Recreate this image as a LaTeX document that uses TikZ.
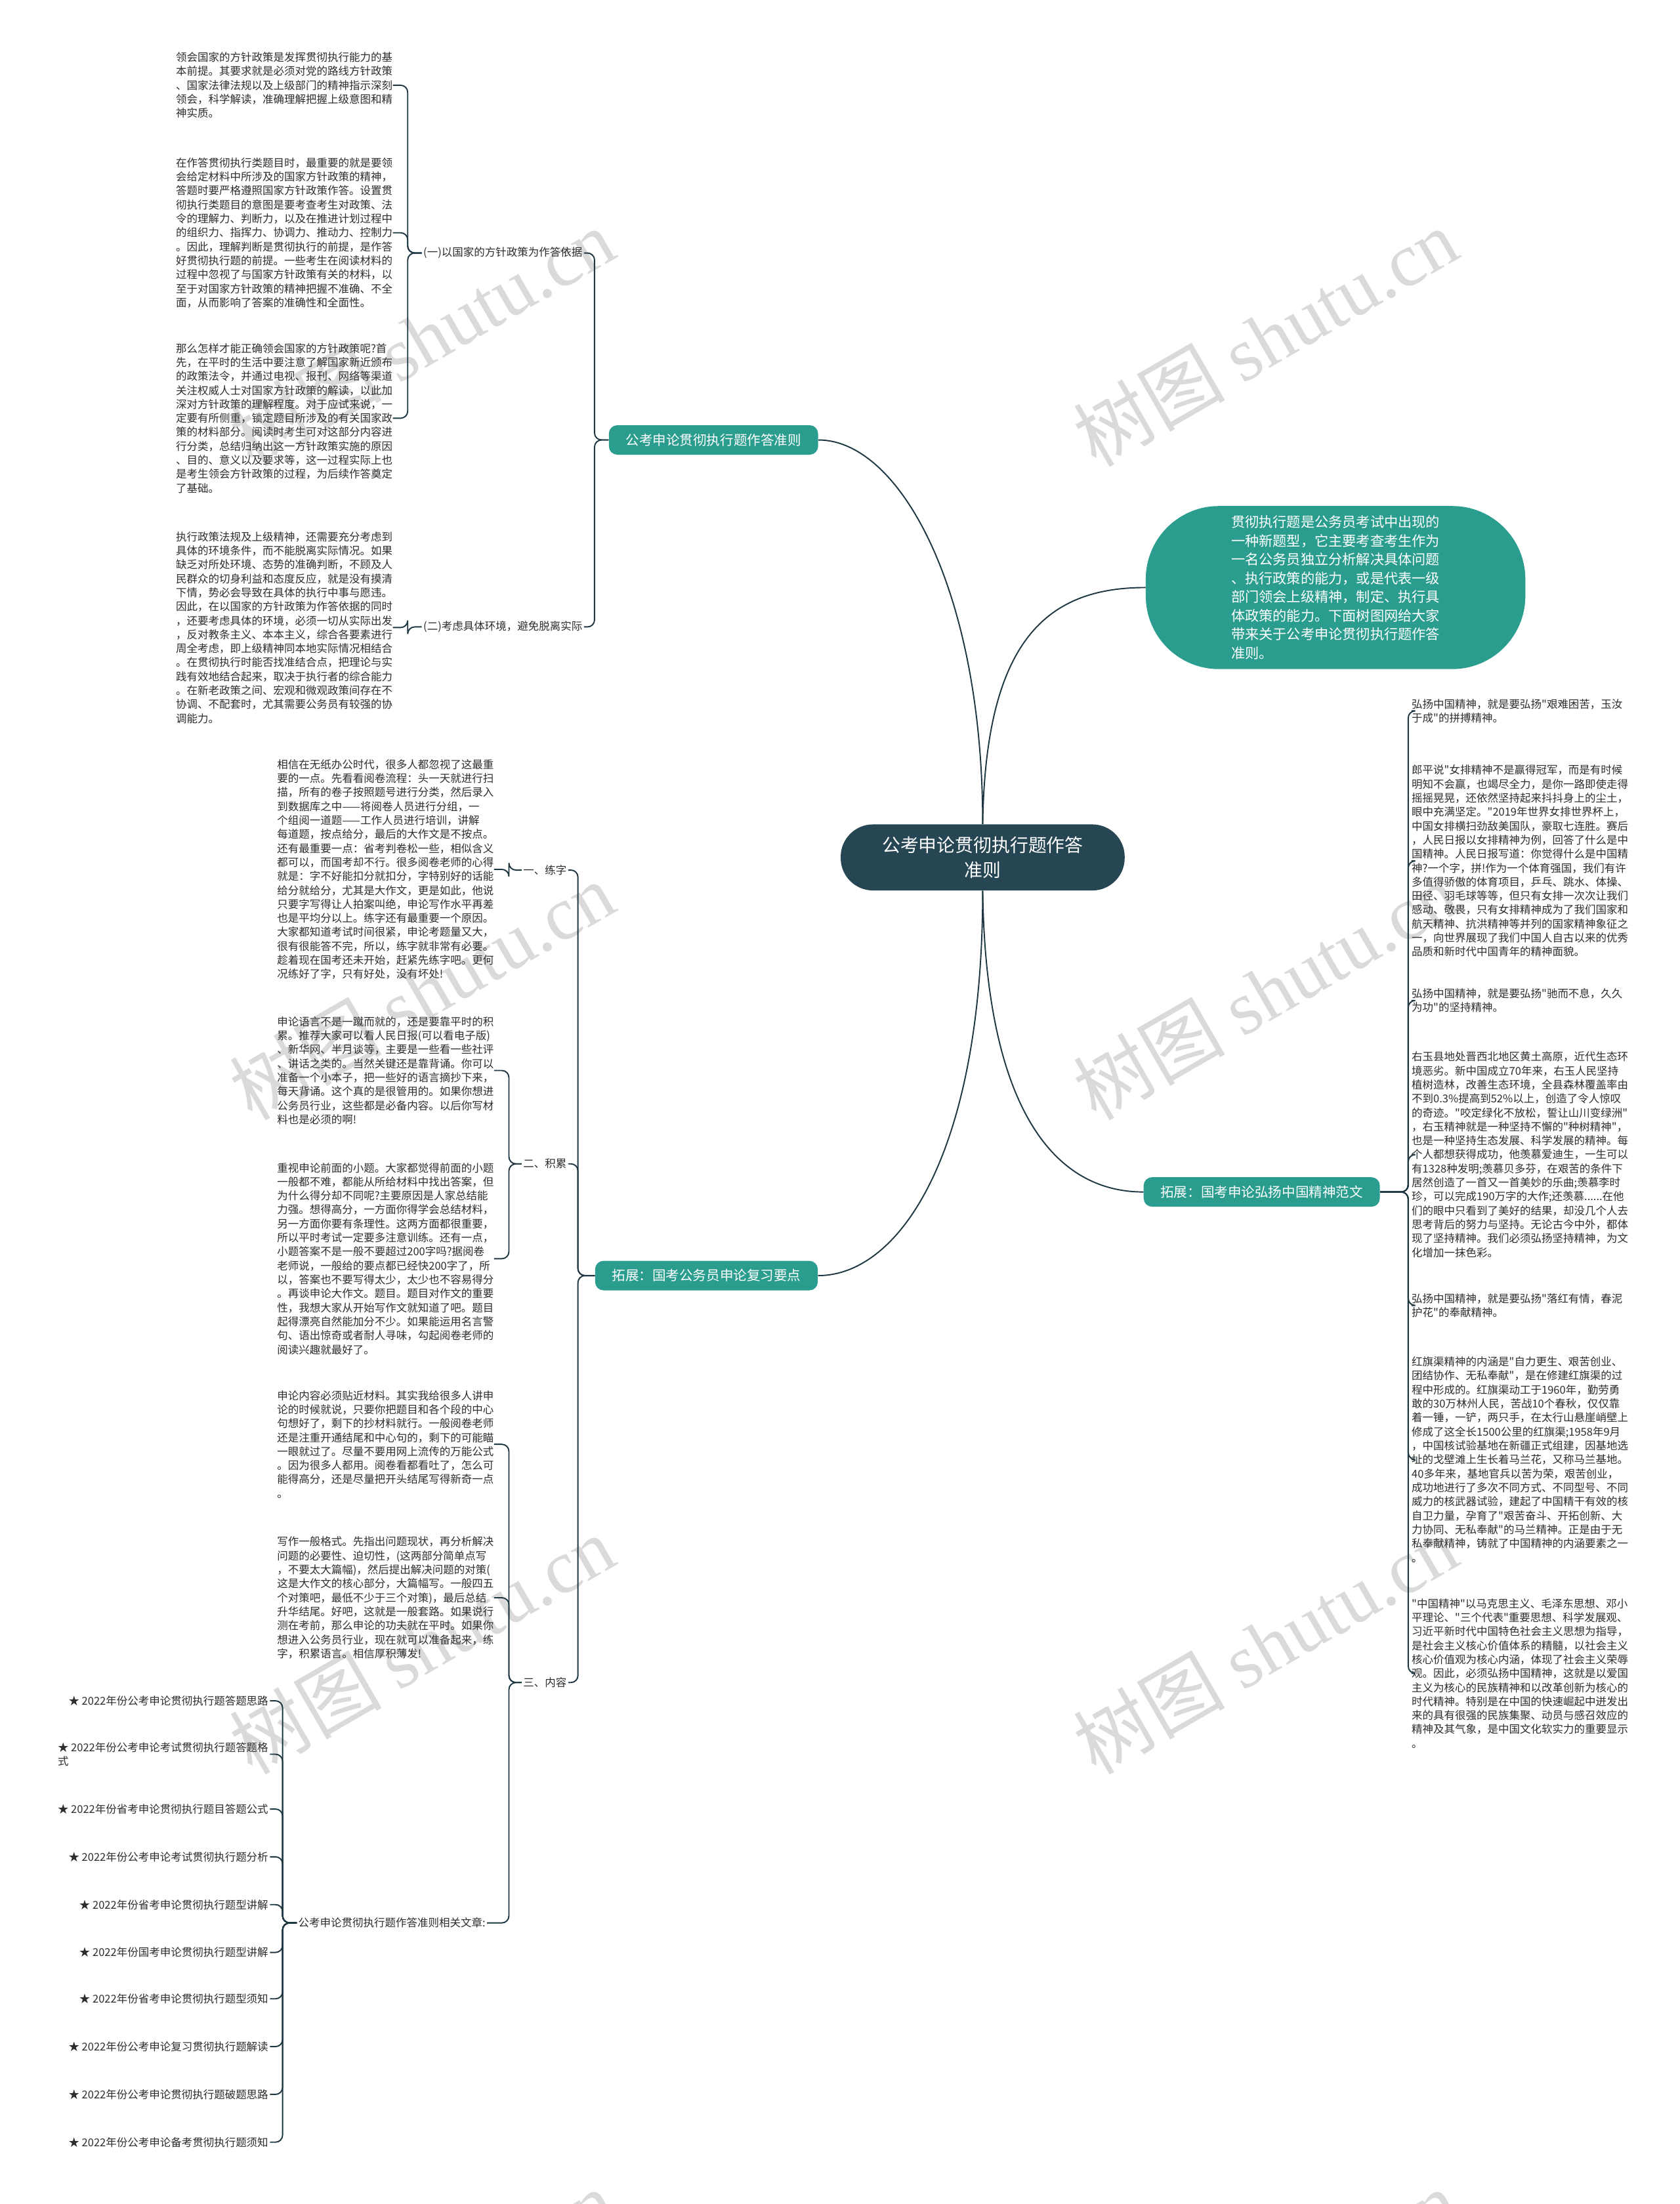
\documentclass[tikz,border=0pt]{standalone}
\usepackage{fontspec}
\setmainfont{Noto Sans CJK SC}[Ligatures=TeXOff]
\newfontfamily\wmlatin{Liberation Serif}
\usepackage{xcolor}
\definecolor{mmdark}{RGB}{38,70,83}
\definecolor{mmteal}{RGB}{42,157,143}
\definecolor{mmtext}{RGB}{45,45,45}
\definecolor{mmline}{RGB}{30,55,66}
\definecolor{mmwater}{RGB}{218,218,218}
\usepackage{tikz}
\usetikzlibrary{positioning}

\tikzset{
  txt/.style={font=\fontsize{7.7}{9.95}\selectfont, text=mmtext, align=left, inner sep=0pt, anchor=north west},
  lbl/.style={font=\fontsize{7.7}{9.95}\selectfont, text=mmtext, inner sep=1pt, align=left},
  branch/.style={fill=mmteal, text=white, font=\fontsize{9.6}{12}\selectfont, rounded corners=6pt, minimum height=21pt, inner xsep=12pt},
  link/.style={draw=mmline, line width=0.9pt, rounded corners=5pt},
  water/.style={text=mmwater, font=\fontsize{54}{54}\selectfont, rotate=30},
}

\begin{document}
\begin{tikzpicture}[x=1pt, y=-1pt]
  % Canvas
  \fill[white] (0,0) rectangle (1195,1568);
  \useasboundingbox (0,0) rectangle (1195,1568);

  % Watermarks
  \foreach \wx in {300,900}
    \foreach \wy in {240,705,1170,1635}
      \node[water] at (\wx,\wy) {树图 {\wmlatin shutu.cn}};

  % --- Central topic ---
  \node[fill=mmdark, text=white, font=\fontsize{13}{18}\selectfont, align=center,
        minimum width=202pt, minimum height=47pt, rounded corners=23pt]
       (center) at (699,610) {公考申论贯彻执行题作答\\准则};

  % --- Intro bubble ---
  \node[fill=mmteal, text=white, font=\fontsize{9.9}{13.3}\selectfont, align=left,
        minimum width=270pt, minimum height=116pt, rounded corners=52pt]
       (intro) at (950,418) {贯彻执行题是公务员考试中出现的\\一种新题型，它主要考查考生作为\\一名公务员独立分析解决具体问题\\、执行政策的能力，或是代表一级\\部门领会上级精神，制定、执行具\\体政策的能力。下面树图网给大家\\带来关于公考申论贯彻执行题作答\\准则。};

  % --- Branch nodes ---
  \node[branch] (rule) at (507.5,313) {公考申论贯彻执行题作答准则};
  \node[branch] (spirit) at (897.5,848) {拓展：国考申论弘扬中国精神范文};
  \node[branch] (review) at (502.5,907.5) {拓展：国考公务员申论复习要点};

  \draw[link] (center.north) .. controls (699,420) and (640,313) .. (rule.east);
  \draw[link] (center.north) .. controls (701,455) and (745,418) .. (intro.west);
  \draw[link] (center.south) .. controls (701,780) and (745,848) .. (spirit.west);
  \draw[link] (center.south) .. controls (699,820) and (640,907.5) .. (review.east);

  % --- Branch 1: rules ---
  \node[lbl, anchor=west] (basis) at (300,180) {(一)以国家的方针政策为作答依据};
  \node[lbl, anchor=west] (env) at (300,446) {(二)考虑具体环境，避免脱离实际};
  \draw[link] (rule.west) -- ++(-10,0) |- (basis.east);
  \draw[link] (rule.west) -- ++(-10,0) |- (env.east);

  \node[txt] (basisA) at (125,37) {领会国家的方针政策是发挥贯彻执行能力的基\\本前提。其要求就是必须对党的路线方针政策\\、国家法律法规以及上级部门的精神指示深刻\\领会，科学解读，准确理解把握上级意图和精\\神实质。};
  \node[txt] (basisB) at (125,112) {在作答贯彻执行类题目时，最重要的就是要领\\会给定材料中所涉及的国家方针政策的精神，\\答题时要严格遵照国家方针政策作答。设置贯\\彻执行类题目的意图是要考查考生对政策、法\\令的理解力、判断力，以及在推进计划过程中\\的组织力、指挥力、协调力、推动力、控制力\\。因此，理解判断是贯彻执行的前提，是作答\\好贯彻执行题的前提。一些考生在阅读材料的\\过程中忽视了与国家方针政策有关的材料，以\\至于对国家方针政策的精神把握不准确、不全\\面，从而影响了答案的准确性和全面性。};
  \node[txt] (basisC) at (125,244) {那么怎样才能正确领会国家的方针政策呢?首\\先，在平时的生活中要注意了解国家新近颁布\\的政策法令，并通过电视、报刊、网络等渠道\\关注权威人士对国家方针政策的解读，以此加\\深对方针政策的理解程度。对于应试来说，一\\定要有所侧重，锁定题目所涉及的有关国家政\\策的材料部分。阅读时考生可对这部分内容进\\行分类，总结归纳出这一方针政策实施的原因\\、目的、意义以及要求等，这一过程实际上也\\是考生领会方针政策的过程，为后续作答奠定\\了基础。};
  \foreach \c in {basisA,basisB,basisC}
    \draw[link] (basis.west) -- ++(-10,0) |- (\c.east);

  \node[txt] (envA) at (125,378) {执行政策法规及上级精神，还需要充分考虑到\\具体的环境条件，而不能脱离实际情况。如果\\缺乏对所处环境、态势的准确判断，不顾及人\\民群众的切身利益和态度反应，就是没有摸清\\下情，势必会导致在具体的执行中事与愿违。\\因此，在以国家的方针政策为作答依据的同时\\，还要考虑具体的环境，必须一切从实际出发\\，反对教条主义、本本主义，综合各要素进行\\周全考虑，即上级精神同本地实际情况相结合\\。在贯彻执行时能否找准结合点，把理论与实\\践有效地结合起来，取决于执行者的综合能力\\。在新老政策之间、宏观和微观政策间存在不\\协调、不配套时，尤其需要公务员有较强的协\\调能力。};
  \draw[link] (env.west) -- ++(-10,0) |- (envA.east);

  % --- Branch 2: spirit essays ---
  \node[txt] (spiritA) at (1004,497) {弘扬中国精神，就是要弘扬"艰难困苦，玉汝\\于成"的拼搏精神。};
  \node[txt] (spiritB) at (1004,544) {郎平说"女排精神不是赢得冠军，而是有时候\\明知不会赢，也竭尽全力，是你一路即使走得\\摇摇晃晃，还依然坚持起来抖抖身上的尘土，\\眼中充满坚定。"2019年世界女排世界杯上，\\中国女排横扫劲敌美国队，豪取七连胜。赛后\\，人民日报以女排精神为例，回答了什么是中\\国精神。人民日报写道：你觉得什么是中国精\\神?一个字，拼!作为一个体育强国，我们有许\\多值得骄傲的体育项目，乒乓、跳水、体操、\\田径、羽毛球等等，但只有女排一次次让我们\\感动、敬畏，只有女排精神成为了我们国家和\\航天精神、抗洪精神等并列的国家精神象征之\\一，向世界展现了我们中国人自古以来的优秀\\品质和新时代中国青年的精神面貌。};
  \node[txt] (spiritC) at (1004,703) {弘扬中国精神，就是要弘扬"驰而不息，久久\\为功"的坚持精神。};
  \node[txt] (spiritD) at (1004,748) {右玉县地处晋西北地区黄土高原，近代生态环\\境恶劣。新中国成立70年来，右玉人民坚持\\植树造林，改善生态环境，全县森林覆盖率由\\不到0.3\%提高到52\%以上，创造了令人惊叹\\的奇迹。"咬定绿化不放松，誓让山川变绿洲"\\，右玉精神就是一种坚持不懈的"种树精神"，\\也是一种坚持生态发展、科学发展的精神。每\\个人都想获得成功，他羡慕爱迪生，一生可以\\有1328种发明;羡慕贝多芬，在艰苦的条件下\\居然创造了一首又一首美妙的乐曲;羡慕李时\\珍，可以完成190万字的大作;还羡慕......在他\\们的眼中只看到了美好的结果，却没几个人去\\思考背后的努力与坚持。无论古今中外，都体\\现了坚持精神。我们必须弘扬坚持精神，为文\\化增加一抹色彩。};
  \node[txt] (spiritE) at (1004,920) {弘扬中国精神，就是要弘扬"落红有情，春泥\\护花"的奉献精神。};
  \node[txt] (spiritF) at (1004,965) {红旗渠精神的内涵是"自力更生、艰苦创业、\\团结协作、无私奉献"，是在修建红旗渠的过\\程中形成的。红旗渠动工于1960年，勤劳勇\\敢的30万林州人民，苦战10个春秋，仅仅靠\\着一锤，一铲，两只手，在太行山悬崖峭壁上\\修成了这全长1500公里的红旗渠;1958年9月\\，中国核试验基地在新疆正式组建，因基地选\\址的戈壁滩上生长着马兰花，又称马兰基地。\\40多年来，基地官兵以苦为荣，艰苦创业，\\成功地进行了多次不同方式、不同型号、不同\\威力的核武器试验，建起了中国精干有效的核\\自卫力量，孕育了"艰苦奋斗、开拓创新、大\\力协同、无私奉献"的马兰精神。正是由于无\\私奉献精神，铸就了中国精神的内涵要素之一\\。};
  \node[txt] (spiritG) at (1004,1137) {"中国精神"以马克思主义、毛泽东思想、邓小\\平理论、"三个代表"重要思想、科学发展观、\\习近平新时代中国特色社会主义思想为指导，\\是社会主义核心价值体系的精髓，以社会主义\\核心价值观为核心内涵，体现了社会主义荣辱\\观。因此，必须弘扬中国精神，这就是以爱国\\主义为核心的民族精神和以改革创新为核心的\\时代精神。特别是在中国的快速崛起中迸发出\\来的具有很强的民族集聚、动员与感召效应的\\精神及其气象，是中国文化软实力的重要显示\\。};
  \foreach \c in {spiritA,spiritB,spiritC,spiritD,spiritE,spiritF,spiritG}
    \draw[link] (spirit.east) -- ++(20,0) |- (\c.west);

  % --- Branch 3: review points ---
  \node[lbl, anchor=west] (write) at (371,619) {一、练字};
  \node[lbl, anchor=west] (accum) at (371,828) {二、积累};
  \node[lbl, anchor=west] (content) at (371,1197) {三、内容};
  \foreach \c in {write,accum,content}
    \draw[link] (review.west) -- ++(-12,0) |- (\c.east);

  \node[txt] (writeA) at (197,540) {相信在无纸办公时代，很多人都忽视了这最重\\要的一点。先看看阅卷流程：头一天就进行扫\\描，所有的卷子按照题号进行分类，然后录入\\到数据库之中——将阅卷人员进行分组，一\\个组阅一道题——工作人员进行培训，讲解\\每道题，按点给分，最后的大作文是不按点。\\还有最重要一点：省考判卷松一些，相似含义\\都可以，而国考却不行。很多阅卷老师的心得\\就是：字不好能扣分就扣分，字特别好的话能\\给分就给分，尤其是大作文，更是如此，他说\\只要字写得让人拍案叫绝，申论写作水平再差\\也是平均分以上。练字还有最重要一个原因。\\大家都知道考试时间很紧，申论考题量又大，\\很有很能答不完，所以，练字就非常有必要。\\趁着现在国考还未开始，赶紧先练字吧。更何\\况练好了字，只有好处，没有坏处!};
  \draw[link] (write.west) -- ++(-9,0) |- (writeA.east);

  \node[txt] (accumA) at (197,723) {申论语言不是一蹴而就的，还是要靠平时的积\\累。推荐大家可以看人民日报(可以看电子版)\\、新华网、半月谈等，主要是一些看一些社评\\、讲话之类的。当然关键还是靠背诵。你可以\\准备一个小本子，把一些好的语言摘抄下来，\\每天背诵。这个真的是很管用的。如果你想进\\公务员行业，这些都是必备内容。以后你写材\\料也是必须的啊!};
  \node[txt] (accumB) at (197,827) {重视申论前面的小题。大家都觉得前面的小题\\一般都不难，都能从所给材料中找出答案，但\\为什么得分却不同呢?主要原因是人家总结能\\力强。想得高分，一方面你得学会总结材料，\\另一方面你要有条理性。这两方面都很重要，\\所以平时考试一定要多注意训练。还有一点，\\小题答案不是一般不要超过200字吗?据阅卷\\老师说，一般给的要点都已经快200字了，所\\以，答案也不要写得太少，太少也不容易得分\\。再谈申论大作文。题目。题目对作文的重要\\性，我想大家从开始写作文就知道了吧。题目\\起得漂亮自然能加分不少。如果能运用名言警\\句、语出惊奇或者耐人寻味，勾起阅卷老师的\\阅读兴趣就最好了。};
  \foreach \c in {accumA,accumB}
    \draw[link] (accum.west) -- ++(-9,0) |- (\c.east);

  \node[txt] (contentA) at (197,989) {申论内容必须贴近材料。其实我给很多人讲申\\论的时候就说，只要你把题目和各个段的中心\\句想好了，剩下的抄材料就行。一般阅卷老师\\还是注重开通结尾和中心句的，剩下的可能瞄\\一眼就过了。尽量不要用网上流传的万能公式\\。因为很多人都用。阅卷看都看吐了，怎么可\\能得高分，还是尽量把开头结尾写得新奇一点\\。};
  \node[txt] (contentB) at (197,1093) {写作一般格式。先指出问题现状，再分析解决\\问题的必要性、迫切性，(这两部分简单点写\\，不要太大篇幅)，然后提出解决问题的对策(\\这是大作文的核心部分，大篇幅写。一般四五\\个对策吧，最低不少于三个对策)，最后总结\\升华结尾。好吧，这就是一般套路。如果说行\\测在考前，那么申论的功夫就在平时。如果你\\想进入公务员行业，现在就可以准备起来，练\\字，积累语言。相信厚积薄发!};
  \node[lbl, anchor=west] (related) at (211,1368) {公考申论贯彻执行题作答准则相关文章:};
  \foreach \c in {contentA,contentB,related}
    \draw[link] (content.west) -- ++(-9,0) |- (\c.east);

  % Related articles
  \foreach \y/\t [count=\i] in {
      1210/{★ 2022年份公考申论贯彻执行题答题思路},
      1248/{★ 2022年份公考申论考试贯彻执行题答题格\\式},
      1287/{★ 2022年份省考申论贯彻执行题目答题公式},
      1321/{★ 2022年份公考申论考试贯彻执行题分析},
      1355/{★ 2022年份省考申论贯彻执行题型讲解},
      1389/{★ 2022年份国考申论贯彻执行题型讲解},
      1422/{★ 2022年份省考申论贯彻执行题型须知},
      1456/{★ 2022年份公考申论复习贯彻执行题解读},
      1490/{★ 2022年份公考申论贯彻执行题破题思路},
      1524/{★ 2022年份公考申论备考贯彻执行题须知}} {
    \node[lbl, anchor=east] (rel\i) at (192,\y) {\t};
    \draw[link] (related.west) -- ++(-10,0) |- (rel\i.east);
  }
\end{tikzpicture}
\end{document}
